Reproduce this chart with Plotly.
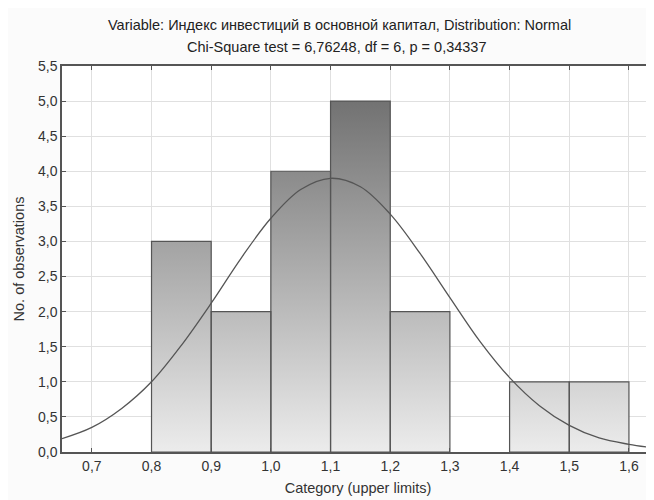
import plotly.graph_objects as go

# Data
bin_upper = [0.9, 1.0, 1.1, 1.2, 1.3, 1.4, 1.5, 1.6]
bin_width = 0.1
counts = [3, 2, 4, 5, 2, 0, 1, 1]

curve_x = [0.65, 0.70, 0.75, 0.80, 0.85, 0.90, 0.95, 1.00, 1.05, 1.10, 1.15,
           1.20, 1.25, 1.30, 1.35, 1.40, 1.45, 1.50, 1.55, 1.60, 1.65]
curve_y = [0.19, 0.35, 0.62, 1.00, 1.52, 2.12, 2.76, 3.33, 3.74, 3.90, 3.78,
           3.39, 2.83, 2.20, 1.58, 1.06, 0.66, 0.38, 0.20, 0.11, 0.05]

x_ticks = [0.7, 0.8, 0.9, 1.0, 1.1, 1.2, 1.3, 1.4, 1.5, 1.6]
y_ticks = [0.0, 0.5, 1.0, 1.5, 2.0, 2.5, 3.0, 3.5, 4.0, 4.5, 5.0, 5.5]

title1 = "Variable: Индекс инвестиций в основной капитал, Distribution: Normal"
title2 = "Chi-Square test = 6,76248, df = 6, p = 0,34337"

# Build bar outlines from the bins
px, py = [], []
for up, c in zip(bin_upper, counts):
    if c <= 0:
        continue
    lo = up - bin_width
    px += [lo, lo, up, up, lo, None]
    py += [0, c, c, 0, 0, None]

fig = go.Figure()
fig.add_trace(go.Scatter(
    x=px, y=py, mode="lines", fill="toself",
    line=dict(color="#555555", width=1.2),
    fillgradient=dict(type="vertical",
                      colorscale=[[0, "#ececec"], [1, "#727272"]],
                      start=0, stop=5),
    hoverinfo="skip", showlegend=False,
))
fig.add_trace(go.Scatter(
    x=curve_x, y=curve_y, mode="lines", line=dict(color="#555555", width=1.3, shape="spline"),
    showlegend=False,
))

# plot area: screen x 62..654, y 66..452 (page body has an 8px margin)
fig.update_layout(
    width=646, height=492,
    margin=dict(l=54, r=0, t=58, b=48),
    paper_bgcolor="#fbfbfb", plot_bgcolor="white",
    separators=",.",
    font=dict(family="Liberation Sans, Arial, sans-serif", size=14, color="#333333"),
    annotations=[
        dict(text=title1, xref="paper", yref="paper", x=0.468, y=1.106,
             xanchor="center", yanchor="middle", showarrow=False,
             font=dict(size=14.5, color="#222222")),
        dict(text=title2, xref="paper", yref="paper", x=0.463, y=1.049,
             xanchor="center", yanchor="middle", showarrow=False,
             font=dict(size=14.5, color="#222222")),
    ],
)
fig.update_xaxes(
    range=[0.65, 1.642], tickvals=x_ticks, tickformat=".1f",
    showgrid=True, gridcolor="#e0e0e0", gridwidth=1,
    showline=True, linecolor="#555555", linewidth=1.5, mirror="ticks",
    ticks="inside", ticklen=4, tickcolor="#555555",
    zeroline=False, automargin=False,
    title=dict(text="Category (upper limits)", standoff=10, font=dict(size=14.5)),
    tickfont=dict(size=14),
)
fig.update_yaxes(
    range=[0, 5.5], tickvals=y_ticks, tickformat=".1f",
    showgrid=True, gridcolor="#e0e0e0", gridwidth=1,
    showline=True, linecolor="#555555", linewidth=1.5, mirror="ticks",
    ticks="inside", ticklen=4, tickcolor="#555555",
    zeroline=False, automargin=False,
    title=dict(text="No. of observations", standoff=10, font=dict(size=14.5)),
    tickfont=dict(size=14),
)

fig.write_html("out.html")
